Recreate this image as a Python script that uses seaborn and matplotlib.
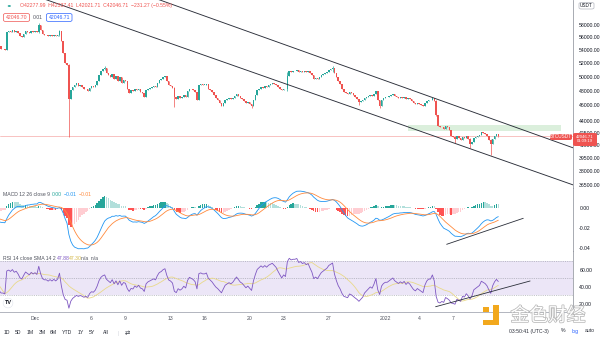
import numpy as np
import pandas as pd
import matplotlib
matplotlib.use("Agg")
import matplotlib.pyplot as plt
import matplotlib.patches as mpatches
import matplotlib.patheffects as pe
import matplotlib.dates as mdates
from matplotlib.ticker import FixedLocator, FixedFormatter, NullLocator
import seaborn as sns

# ---------------- data (BTCUSDT, 4h candles) ----------------
start_time = "2021-11-24 00:00"
# off-screen warm-up closes (Nov 24 - Nov 27)
closes_warmup = [57200, 56800, 56500, 57000, 57300, 57100,
                 57500, 58200, 58600, 58900, 59000, 58900,
                 58700, 57300, 55800, 54200, 53700, 53600,
                 54300, 54600, 54900, 55000, 54700, 54600]
# Nov 28 - Dec 4
closes_late_nov = [54200, 54200, 54050, 56850, 57020, 56850,
                   57180, 56850, 57020, 56700, 56210, 56050,
                   56540, 57020, 56850, 56700, 57020, 56850,
                   57020, 56850, 58000, 57180, 56540, 56380,
                   56380, 56210, 56380, 56210, 56380, 56210,
                   56380, 57020, 55420, 53510, 51990, 51700,
                   46810, 48030, 48570, 48840, 49120, 48700]
# Dec 5 - Dec 14
closes_mid_dec = [48840, 48570, 48170, 48300, 47900, 48440,
                  48700, 48570, 48840, 49400, 50240, 50820,
                  51110, 51250, 50530, 50240, 49960, 50390,
                  49680, 50100, 49400, 49960, 49120, 49540,
                  49400, 48300, 47620, 48030, 47900, 48300,
                  48030, 48300, 47760, 47620, 47080, 48030,
                  48300, 48440, 48570, 48700, 48570, 49120,
                  49540, 49680, 49960, 50100, 49400, 48840,
                  48700, 48440, 47080, 46810, 47220, 46950,
                  47080, 47350, 47080, 47900, 48300, 48170]
# Dec 15 - Dec 24
closes_late_dec = [48030, 47760, 46680, 48840, 48980, 48840,
                   48840, 48980, 48300, 48030, 47760, 47350,
                   46950, 46680, 46290, 45900, 46290, 46680,
                   46810, 46950, 46810, 46950, 47220, 47490,
                   47220, 46950, 46810, 46550, 46290, 46420,
                   46160, 45900, 46680, 47350, 48030, 48300,
                   48570, 48440, 48700, 48570, 48840, 48980,
                   49120, 48980, 48840, 48570, 48300, 48030,
                   48300, 48170, 50100, 50820, 50680, 50820,
                   50820, 50970, 50680, 50820, 50680, 50820]
# Dec 25 - Jan 3
closes_year_end = [50680, 50820, 50530, 50240, 49680, 49820,
                   49680, 49960, 50240, 50390, 50530, 50680,
                   50970, 51110, 51250, 50530, 49960, 49400,
                   48980, 48300, 47760, 47620, 47490, 47760,
                   47620, 47350, 47080, 46810, 46420, 46550,
                   46680, 46950, 47080, 47220, 47350, 47220,
                   47490, 47900, 46680, 45900, 46680, 46950,
                   47080, 47080, 47220, 47350, 47490, 47220,
                   47080, 46950, 47080, 46950, 47080, 46810,
                   46950, 46810, 46550, 46290, 46160, 46290]
# Jan 4 - Jan 11
closes_jan = [46160, 46030, 45900, 46290, 46550, 46680,
              46680, 46950, 46550, 44740, 43380, 43140,
              43260, 43010, 43380, 43140, 42770, 42040,
              41920, 41680, 42040, 41800, 41560, 41920,
              41800, 42040, 41680, 41090, 41320, 41800,
              41920, 42040, 42160, 42520, 42400, 42280,
              42040, 41560, 41090, 41680, 42040, 42277.99,
              42046.71]
# notable wicks (candle index, high, low)
wick_index = [44, 55, 60, 79, 116, 157, 176, 200, 214, 225, 255, 265, 273, 284, 288]
wick_high = [58400, 57300, 51800, 51500, 48500, 46200, 50600, 51600, 46800, 46700, 46700, 42100, 41900, 41700, 42337.41]
wick_low = [56800, 56300, 42000, 50900, 45800, 45600, 48000, 50600, 46000, 45650, 44600, 41300, 40700, 39850, 42021.71]

last_price = 42046.71
header_text = "O42277.99  H42337.41  L42021.71  C42046.71  \u2212231.27 (\u22120.55%)"

# drawings
zone_time = ["2022-01-03 00:00", "2022-01-16 13:00"]
zone_price = [42700, 43460]
channel_upper_time = ["2021-12-09 10:00", "2022-01-18 05:30"]
channel_upper_price = [64390, 40380]
channel_lower_time = ["2021-11-30 13:30", "2022-01-18 05:30"]
channel_lower_price = [63520, 36270]
macd_trend_time = ["2022-01-06 10:20", "2022-01-13 05:00"]
macd_trend_value = [-0.0363, -0.0103]
rsi_trend_time = ["2022-01-05 10:50", "2022-01-13 19:30"]
rsi_trend_value = [16.2, 46.5]

# axes / ticks
date_ticks = ["2021-12-01", "2021-12-06", "2021-12-09", "2021-12-13", "2021-12-16",
              "2021-12-20", "2021-12-23", "2021-12-27", "2022-01-01", "2022-01-04", "2022-01-07"]
date_labels = ["Dec", "6", "9", "13", "16", "20", "23", "27", "2022", "4", "7"]
price_ticks = [36500, 38000, 39500, 41000, 42500, 44000, 46000, 48000, 50000,
               52000, 54000, 56000, 58000]
macd_ticks = [0.0, -0.02, -0.04]
rsi_ticks = [60, 40, 20]
toolbar_labels = ["1D", "5D", "1M", "3M", "6M", "YTD", "1Y", "5Y", "All"]

# ---------------- styling ----------------
sns.set_theme(style="white")
plt.rcParams['font.family'] = ['Liberation Sans', 'DejaVu Sans']
GREEN = '#26a69a'
RED = '#ef5350'
TXT = '#131722'
GRAYTXT = '#50535e'
LINE = '#2a2e39'
FS = 3.7

W, H = 600, 338
fig = plt.figure(figsize=(6, 3.38), dpi=100)
fig.patch.set_facecolor('white')


def rect(x0, y0, x1, y1):
    return [x0 / W, 1 - y1 / H, (x1 - x0) / W, (y1 - y0) / H]


def ftext(px, py, s, **kw):
    kw.setdefault('fontsize', FS)
    kw.setdefault('va', 'center')
    kw.setdefault('zorder', 12)
    return fig.text(px / W, 1 - py / H, s, **kw)


def fbox(x0, y0, x1, y1, fc, ec='none', lw=0.5, z=10):
    p = mpatches.FancyBboxPatch((x0 / W, 1 - y1 / H), (x1 - x0) / W, (y1 - y0) / H,
                                boxstyle="round,pad=0,rounding_size=0.004",
                                transform=fig.transFigure, facecolor=fc, edgecolor=ec,
                                linewidth=lw, zorder=z)
    fig.add_artist(p)


ax = fig.add_axes(rect(0, 0, 573, 188))
axm = fig.add_axes(rect(0, 188, 573, 251))
axr = fig.add_axes(rect(0, 251, 573, 312))

# ---------------- build series ----------------
close = np.array(closes_warmup + closes_late_nov + closes_mid_dec + closes_late_dec
                 + closes_year_end + closes_jan, dtype=float)
n = len(close)
times = pd.date_range(start_time, periods=n, freq="4h")
xn = mdates.date2num(times.to_pydatetime())
opens = np.r_[close[0], close[:-1]]
high = np.maximum(opens, close)
low = np.minimum(opens, close)
for i, hi, lo in zip(wick_index, wick_high, wick_low):
    high[i] = max(high[i], hi)
    low[i] = min(low[i], lo)

up = close >= opens
ccol = np.where(up, GREEN, RED)
body_bottom = np.minimum(opens, close)
body_h = np.maximum(np.abs(close - opens), close * 0.0006)


def tnum(lst):
    return mdates.date2num(pd.to_datetime(lst).to_pydatetime())


# ---------------- main price panel ----------------
ax.set_yscale('log')
ax.fill_between(tnum(zone_time), zone_price[0], zone_price[1], color='#dbefdc', lw=0, zorder=1)
ax.axhline(last_price, color='#f5aaa8', lw=0.5, zorder=2)
ax.vlines(xn, low, high, colors=ccol, linewidth=0.5, zorder=3)
ax.bar(xn, body_h, bottom=body_bottom, width=0.135, color=ccol, linewidth=0, zorder=4)
ax.plot(tnum(channel_upper_time), channel_upper_price, color=LINE, lw=0.65, zorder=5)
ax.plot(tnum(channel_lower_time), channel_lower_price, color=LINE, lw=0.65, zorder=5)
ax.set_ylim(36200, 62430)
ax.yaxis.set_major_locator(FixedLocator(price_ticks))
ax.yaxis.set_major_formatter(FixedFormatter(["%.2f" % v for v in price_ticks]))
ax.yaxis.set_minor_locator(NullLocator())

# ---------------- MACD panel ----------------
lc = pd.Series(np.log(close))
macd = lc.ewm(span=12, adjust=False).mean() - lc.ewm(span=26, adjust=False).mean()
signal = macd.ewm(span=9, adjust=False).mean()
hist = macd - signal
prev = hist.shift(1).fillna(0)
hcol = np.where(hist >= 0,
                np.where(hist > prev, '#26a69a', '#b2dfdb'),
                np.where(hist > prev, '#ffcdd2', '#ff5252'))
axm.bar(xn, hist.values, width=0.13, color=hcol, linewidth=0, zorder=2)
sns.lineplot(x=xn, y=macd.values, ax=axm, color='#2196f3', linewidth=0.6, zorder=3)
sns.lineplot(x=xn, y=signal.values, ax=axm, color='#ff8a3d', linewidth=0.6, zorder=3)
axm.plot(tnum(macd_trend_time), macd_trend_value, color=LINE, lw=0.6, zorder=4)
axm.set_ylim(-0.043, 0.020)
axm.yaxis.set_major_locator(FixedLocator(macd_ticks))
axm.yaxis.set_major_formatter(FixedFormatter(["%.2f" % v for v in macd_ticks]))

# ---------------- RSI panel ----------------
d = pd.Series(close).diff().fillna(0)
ag = d.clip(lower=0).ewm(alpha=1 / 14, adjust=False).mean()
al = (-d.clip(upper=0)).ewm(alpha=1 / 14, adjust=False).mean()
rsi = 100 - 100 / (1 + ag / al.replace(0, np.nan))
rsi = rsi.fillna(50)
rsi_sma = rsi.rolling(14, min_periods=1).mean()
axr.axhspan(30, 70, color='#ece6f7', lw=0, zorder=0)
for lvl in (70, 50, 30):
    axr.axhline(lvl, color='#9598a1', lw=0.4, ls=(0, (2, 2)), zorder=1)
sns.lineplot(x=xn, y=rsi_sma.values, ax=axr, color='#e9d98a', linewidth=0.6, zorder=2)
sns.lineplot(x=xn, y=rsi.values, ax=axr, color='#7e57c2', linewidth=0.6, zorder=3)
axr.plot(tnum(rsi_trend_time), rsi_trend_value, color=LINE, lw=0.6, zorder=4)
axr.set_ylim(10, 81.8)
axr.yaxis.set_major_locator(FixedLocator(rsi_ticks))
axr.yaxis.set_major_formatter(FixedFormatter(["%.2f" % v for v in rsi_ticks]))

# ---------------- shared axis styling ----------------
x0 = mdates.date2num(pd.Timestamp("2021-12-01") - pd.Timedelta(days=3.097))
x1 = mdates.date2num(pd.Timestamp("2021-12-01") + pd.Timedelta(days=47.61))
for a in (ax, axm, axr):
    a.set_facecolor('white')
    a.set_xlim(x0, x1)
    a.yaxis.tick_right()
    a.tick_params(axis='y', length=0, pad=4.5, labelsize=FS, labelcolor=TXT)
    a.set_xlabel('')
    a.set_ylabel('')
    for s in ('top', 'left'):
        a.spines[s].set_visible(False)
    a.spines['right'].set_color('#9a9da6')
    a.spines['right'].set_linewidth(0.6)
    a.spines['bottom'].set_color('#8a8d96')
    a.spines['bottom'].set_linewidth(0.7)
    a.grid(False)
for a in (ax, axm):
    a.tick_params(axis='x', bottom=False, labelbottom=False)
axr.spines['bottom'].set_color('#b2b5be')
axr.xaxis.set_major_locator(FixedLocator(tnum(date_ticks)))
axr.xaxis.set_major_formatter(FixedFormatter(date_labels))
axr.tick_params(axis='x', length=0, pad=3, labelsize=FS, labelcolor=GRAYTXT)

# ---------------- header / legends ----------------
fig.add_artist(mpatches.Circle((9.3 / W, 1 - 6 / H), 1.6 / W, transform=fig.transFigure,
                               facecolor=GREEN, edgecolor='none', zorder=12))
ftext(20, 6, header_text, color=RED, ha='left')
fbox(3.5, 13.5, 29.5, 21.5, 'white', ec=RED)
ftext(16.5, 17.5, "42046.70", color=RED, ha='center')
ftext(33, 17.5, "0.01", color=GRAYTXT, ha='left')
fbox(46.5, 13.5, 72, 21.5, 'white', ec='#2962ff')
ftext(59.2, 17.5, "42046.71", color='#2962ff', ha='center')

# MACD legend
ftext(3, 194.5, "MACD 12 26 close 9", color=GRAYTXT, ha='left')
ftext(52, 194.5, "0.00", color=GREEN, ha='left')
ftext(64, 194.5, "\u22120.01", color='#2196f3', ha='left')
ftext(79, 194.5, "\u22120.01", color='#ff8a3d', ha='left')

# RSI legend
ftext(3, 258, "RSI 14 close SMA 14 2", color=GRAYTXT, ha='left')
ftext(57, 258, "47.88", color='#7e57c2', ha='left')
ftext(69, 258, "47.30", color='#d4b84a', ha='left')
ftext(81, 258, "n/a  n/a", color=GRAYTXT, ha='left')

# price labels on the right scale
fbox(550, 134, 572, 140, RED, z=10)
ftext(561, 137, "BTCUSDT", color='white', ha='center', fontsize=3.3)
fbox(573, 133, 597, 146, RED, z=10)
ftext(585, 137.0, "42046.71", color='white', ha='center', fontsize=3.1)
ftext(585, 141.4, "01:09:19", color='white', ha='center', fontsize=3.0)
fbox(579, 2.5, 594, 9, 'white', ec='#b2b5be', z=10)
ftext(586.5, 5.8, "USDT", color=TXT, ha='center', fontsize=3.4)

# TV logo
ftext(8, 303, "TV", color=TXT, ha='center', fontsize=4, fontweight='bold',
      bbox=dict(boxstyle='circle,pad=0.25', facecolor='white', edgecolor='#e0e3eb', lw=0.4))

# bottom toolbar
tb_x = [6.7, 18, 30, 42, 53.5, 67, 81, 92, 106]
for px, lab in zip(tb_x, toolbar_labels):
    ftext(px, 333, lab, color=LINE, ha='center')
ftext(118, 333, "|", color='#d1d4dc', ha='center')
ftext(127, 333, "\u21c4", color=LINE, ha='center', fontsize=4.5)
ftext(529, 331, "03:50:41 (UTC-3)", color=LINE, ha='center')
ftext(563.5, 331, "%", color=LINE, ha='center')
ftext(575, 331, "log", color='#2962ff', ha='center')
ftext(590, 331, "auto", color=LINE, ha='center')

# watermark
YEL = '#f2a81d'
for (a0, b0, a1, b1) in [(483, 306.5, 488.5, 312), (493, 305, 498.5, 325), (483, 319.5, 498.5, 325)]:
    fig.add_artist(mpatches.Rectangle((a0 / W, 1 - b1 / H), (a1 - a0) / W, (b1 - b0) / H,
                                      transform=fig.transFigure, facecolor=YEL,
                                      edgecolor='none', zorder=13))
ftext(548, 315.5, "金色财经", color='white', ha='center', fontsize=13.5,
      family=['Noto Sans CJK SC', 'DejaVu Sans'], zorder=13,
      path_effects=[pe.Stroke(linewidth=1.1, foreground='#b9b9b9'), pe.Normal()])

fig.savefig("out.png", dpi=100, facecolor='white')
